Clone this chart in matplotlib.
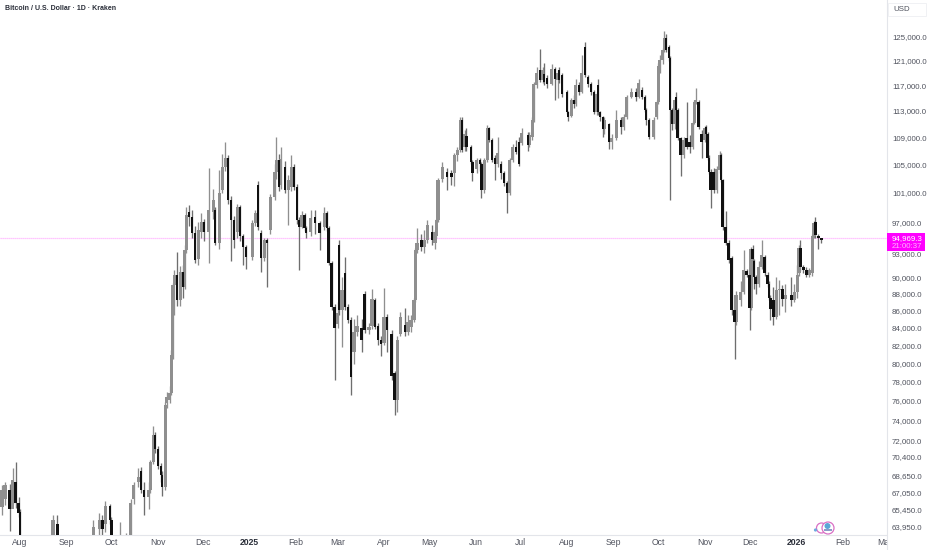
import numpy as np
import matplotlib
matplotlib.use("Agg")
import matplotlib.pyplot as plt
from matplotlib.patches import Rectangle, Circle
from matplotlib.transforms import IdentityTransform

plt.rcParams['font.family'] = ['Liberation Sans', 'DejaVu Sans']

# Candles (days since 2024-08-01, prices in thousand USD)
day = [-12,-10,-7,-5,-3,-1,0,22,25,49,
 53,55,57,60,61,67,71,74,76,79,
 81,83,86,87,89,90,92,94,95,97,
 98,100,101,102,103,105,107,109,110,111,
 113,115,117,119,121,123,126,129,130,133,
 135,137,139,141,143,145,147,149,151,155,
 157,159,161,163,165,167,170,171,173,174,
 177,179,181,183,185,186,188,190,191,194,
 197,200,203,205,206,208,210,212,213,215,
 217,219,221,223,225,228,230,233,235,237,
 239,241,243,245,248,250,252,254,257,259,
 261,263,264,265,268,270,272,275,277,278,
 279,282,285,288,290,292,294,295,297,298,
 301,302,305,307,308,310,312,313,315,317,
 319,321,323,325,327,329,331,333,335,339,
 340,342,343,345,347,349,350,352,355,357,
 359,360,362,365,366,368,370,371,373,375,
 377,379,381,383,385,386,387,389,390,393,
 395,398,401,403,405,408,411,413,415,417,
 418,420,423,425,426,427,429,430,431,433,
 434,435,437,438,439,441,443,445,447,449,
 450,451,453,455,457,458,459,460,461,463,
 465,467,468,469,471,473,475,477,478,481,
 483,485,487,488,489,490,491,493,495,497,
 499,500,501,503,505,507,509,511,515,517,
 519,520,521,523,525,527,529,530,531,533,
 535]
open_ = [65.7,66.4,67.3,65.5,68.0,66.1,65.3,62.0,64.2,62.0,
 63.8,64.6,64.2,65.8,64.6,62.0,62.5,62.9,66.4,68.0,
 69.0,67.3,66.6,67.3,69.9,72.5,71.1,69.5,68.7,67.5,
 75.8,76.1,76.8,80.9,89.0,90.3,87.2,90.6,88.8,93.4,
 98.4,97.7,95.6,92.3,95.7,97.0,95.7,98.4,98.6,94.3,
 101.4,104.6,105.9,100.0,97.3,95.7,99.0,95.2,93.8,92.5,
 96.9,102.1,95.6,92.4,94.7,96.0,100.4,103.9,105.6,102.1,
 104.6,101.4,101.8,104.6,101.8,97.3,96.4,98.0,96.2,95.7,
 97.7,96.9,96.4,98.2,96.2,91.8,86.4,84.4,94.0,86.0,
 90.5,86.4,84.9,81.2,83.5,84.0,87.9,83.7,84.2,87.2,
 84.2,82.6,82.3,85.2,83.3,78.9,76.1,83.3,84.3,83.5,
 84.1,84.9,87.2,93.4,94.7,93.8,94.7,95.7,94.3,95.2,
 97.3,103.0,103.9,103.8,103.8,106.3,107.1,111.6,107.5,109.2,
 107.5,105.4,104.4,105.6,105.0,101.4,105.6,110.3,108.6,105.9,
 105.1,105.1,103.8,102.4,101.0,105.6,107.5,108.3,108.1,109.3,
 107.9,109.0,111.6,117.0,119.5,117.8,118.9,118.2,117.2,119.7,
 117.8,119.5,118.6,115.9,112.8,112.2,114.7,114.0,117.1,116.0,
 123.3,118.3,117.2,115.9,112.8,117.0,112.8,112.0,110.2,110.9,
 108.3,108.8,111.6,110.5,112.0,115.2,116.0,115.2,116.3,115.2,
 113.1,111.6,109.0,112.0,114.3,119.5,121.1,122.8,124.8,123.3,
 121.4,113.1,110.9,115.2,113.1,108.8,106.3,108.8,108.3,107.5,
 111.2,114.3,114.3,109.5,108.6,110.5,109.5,106.0,103.9,103.9,
 101.4,104.2,106.3,102.8,96.4,94.3,92.4,86.0,84.7,87.2,
 88.2,90.7,90.3,86.3,93.5,92.0,90.0,89.2,91.2,92.5,
 90.3,89.2,87.5,87.2,85.2,88.4,88.6,87.4,87.8,87.2,
 88.2,90.5,93.7,91.2,90.9,90.3,90.5,95.2,97.0,95.2,
 94.9]
high = [67.7,68.0,67.8,69.3,69.9,66.6,65.5,65.0,65.0,64.6,
 65.2,65.0,66.3,66.0,64.8,64.4,63.4,66.4,68.0,69.3,
 69.4,68.0,68.0,70.1,73.4,72.8,71.4,69.8,69.0,75.9,
 76.9,77.6,81.5,89.3,90.9,93.1,91.4,91.5,94.0,99.0,
 99.4,98.6,96.5,97.0,98.3,97.5,104.5,101.5,99.0,104.2,
 106.5,108.3,106.3,100.5,97.8,99.5,99.3,95.5,94.1,97.3,
 98.6,102.6,96.0,95.0,95.0,100.8,105.0,109.0,106.5,107.5,
 105.5,103.5,106.3,105.0,102.2,97.7,98.5,98.3,96.5,98.6,
 98.6,97.2,99.0,98.5,96.5,92.0,86.7,87.0,94.7,90.0,
 92.5,86.8,85.2,85.0,85.5,85.0,88.3,84.5,88.5,87.5,
 84.5,83.0,88.7,85.6,83.7,79.2,83.0,85.8,86.3,85.5,
 85.5,87.5,93.7,96.3,95.5,96.0,97.3,96.7,96.0,97.5,
 103.1,105.3,104.5,104.2,106.6,107.5,112.0,112.0,110.0,110.4,
 107.8,105.7,106.0,106.0,105.3,106.0,110.8,110.5,108.9,106.3,
 109.0,105.5,104.0,102.6,106.0,108.0,108.5,109.0,110.3,109.8,
 109.8,112.0,117.5,120.0,123.0,120.0,120.7,118.6,120.5,120.0,
 119.5,120.0,119.0,116.2,113.0,115.0,115.5,118.0,117.5,122.0,
 124.1,118.7,117.5,116.2,116.0,118.0,113.0,112.2,112.0,111.2,
 109.5,113.1,112.0,112.5,115.5,116.5,116.5,118.0,116.8,115.5,
 113.4,111.9,112.0,114.6,120.6,122.0,123.2,126.0,125.5,123.7,
 121.8,113.4,115.0,116.0,113.4,109.0,109.0,114.3,109.3,111.5,
 114.7,116.5,114.6,110.0,110.6,110.8,109.8,106.3,104.3,104.5,
 104.8,107.0,106.6,103.0,98.5,94.7,92.7,86.3,88.3,89.5,
 93.4,91.0,90.6,93.8,94.0,92.3,90.3,92.0,94.7,92.8,
 90.6,89.5,87.8,88.8,90.0,89.6,89.0,89.1,90.0,89.2,
 91.5,94.0,94.7,91.5,91.2,91.1,95.5,97.2,97.7,95.5,
 95.0]
low = [65.0,65.9,63.6,66.0,65.6,64.8,61.0,61.5,61.5,61.5,
 63.0,62.5,63.5,64.2,61.5,61.0,62.0,62.5,66.0,67.5,
 67.0,65.0,65.5,67.0,69.7,70.8,69.2,68.0,66.7,67.3,
 75.2,75.8,76.6,80.5,85.5,86.5,86.5,87.5,88.5,93.0,
 96.5,95.0,91.7,91.5,95.0,94.5,91.7,97.5,94.0,93.5,
 101.0,104.0,99.5,92.0,93.6,95.0,94.6,91.5,91.0,92.1,
 96.5,96.0,90.6,92.0,88.8,95.5,100.0,103.0,101.3,101.5,
 101.0,96.7,101.3,101.4,96.8,90.9,96.2,95.8,95.0,95.2,
 95.5,93.4,96.0,95.9,91.5,86.0,78.2,84.0,85.5,81.8,
 86.0,84.5,76.6,79.9,83.0,81.2,83.4,83.3,83.8,83.8,
 82.0,80.8,82.0,81.2,78.2,74.5,74.8,83.0,83.0,83.2,
 83.5,84.7,87.0,93.0,93.3,93.0,94.3,94.0,93.5,95.0,
 97.0,102.5,101.4,102.1,101.9,105.5,106.8,106.8,107.0,107.0,
 105.0,102.7,103.8,104.0,100.3,101.0,105.3,108.3,105.3,102.8,
 104.7,103.0,102.0,98.2,100.7,105.3,106.5,104.8,107.8,107.0,
 107.5,108.5,111.3,116.5,117.5,117.4,117.0,116.5,117.0,114.7,
 115.0,117.4,115.2,112.5,111.5,112.0,113.5,113.8,115.5,115.8,
 118.3,116.8,115.5,112.5,112.3,112.3,111.5,109.0,109.5,107.3,
 107.2,108.5,109.5,110.0,111.8,115.0,114.5,115.0,114.8,112.8,
 110.8,108.7,108.7,111.8,114.0,119.0,120.5,122.5,122.5,121.0,
 100.0,110.0,110.2,112.8,108.5,103.4,106.0,107.2,106.7,107.2,
 111.0,114.0,110.2,106.0,108.3,109.2,105.7,103.6,98.9,101.0,
 101.0,103.8,102.5,96.0,94.0,91.7,85.5,80.5,84.3,86.5,
 88.0,90.0,83.7,86.0,92.0,88.5,88.0,88.8,91.0,90.2,
 88.8,87.2,84.9,84.3,85.0,85.5,86.5,85.8,86.5,87.0,
 87.5,90.2,90.8,90.5,90.0,90.0,90.2,95.0,95.0,93.5,
 94.3]
close = [67.3,67.7,65.5,68.2,66.1,65.2,62.0,64.6,62.0,63.9,
 64.6,63.8,65.8,64.6,62.0,62.5,63.0,66.1,67.7,68.5,
 67.3,66.6,67.3,69.9,72.5,71.1,69.5,68.7,67.5,75.6,
 76.4,76.8,80.9,89.0,90.3,87.2,90.6,88.8,93.4,98.0,
 97.7,95.6,92.1,96.0,97.0,95.7,98.6,100.0,94.3,101.0,
 104.6,105.9,100.0,97.3,94.7,99.0,95.2,93.8,92.5,96.9,
 98.2,96.4,92.4,94.7,94.3,100.4,103.9,105.6,101.8,105.8,
 101.4,102.8,104.6,101.8,97.3,96.4,98.0,96.2,95.6,97.6,
 96.9,95.6,98.2,96.2,91.8,86.4,84.0,85.7,86.0,88.4,
 86.4,84.9,78.5,83.5,84.2,82.6,83.7,84.1,87.3,84.1,
 82.6,82.1,85.2,83.7,78.6,76.1,82.6,85.2,83.5,84.7,
 84.9,87.2,93.4,94.3,93.8,94.7,96.6,94.7,95.7,97.3,
 102.8,104.6,103.2,103.2,106.3,107.1,111.6,107.1,109.5,107.5,
 105.4,103.8,105.6,105.0,101.4,105.6,110.3,108.6,105.6,105.1,
 106.7,103.8,102.4,101.0,105.6,107.5,106.8,105.1,109.6,107.9,
 109.3,111.6,117.2,119.0,117.8,119.5,117.5,117.2,119.7,118.1,
 119.0,117.8,115.6,112.8,112.0,114.7,114.0,117.1,116.0,119.0,
 118.7,117.2,115.9,112.8,115.6,112.8,112.0,110.2,111.6,108.3,
 108.8,111.6,110.5,112.0,115.2,116.0,115.2,117.4,115.2,113.1,
 111.6,109.0,111.6,114.3,120.2,121.1,122.8,124.8,122.8,121.4,
 113.1,110.9,114.7,113.1,108.8,106.3,108.6,107.5,107.5,111.2,
 114.3,114.7,110.5,108.3,110.3,109.5,106.0,103.9,101.4,101.4,
 104.4,106.3,102.8,96.4,94.3,92.1,86.0,84.7,87.8,88.2,
 90.9,90.3,86.3,93.5,92.2,90.0,89.2,91.2,92.8,90.5,
 89.2,87.5,86.2,85.2,88.4,88.6,87.4,87.8,87.2,88.2,
 90.3,93.7,91.2,90.9,90.3,90.9,95.2,96.9,95.3,94.9,
 94.7]

price_ticks = [125000,121000,117000,113000,109000,105000,101000,97000,93000,90000,
               88000,86000,84000,82000,80000,78000,76000,74000,72000,70400,
               68650,67050,65450,63950]
month_labels = ["Aug","Sep","Oct","Nov","Dec","2025","Feb","Mar","Apr","May","Jun","Jul",
                "Aug","Sep","Oct","Nov","Dec","2026","Feb","Mar"]
month_dates = ["2024-08-01","2024-09-01","2024-10-01","2024-11-01","2024-12-01","2025-01-01",
               "2025-02-01","2025-03-01","2025-04-01","2025-05-01","2025-06-01","2025-07-01",
               "2025-08-01","2025-09-01","2025-10-01","2025-11-01","2025-12-01","2026-01-01",
               "2026-02-01","2026-03-01"]
last_price = 94969.3
last_label = "94,969.3"
countdown = "21:00:37"
title = "Bitcoin / U.S. Dollar · 1D · Kraken"

W, H = 932, 550
fig = plt.figure(figsize=(W/100, H/100), dpi=100, facecolor="white")
PANEL_X, AX_BOTTOM = 887, 535

def price_at(y_px):
    return 125000*np.exp(-(y_px-37)/731)

ax = fig.add_axes([0, 1-AX_BOTTOM/H, PANEL_X/W, AX_BOTTOM/H])
ax.set_yscale("log")
ax.set_ylim(price_at(AX_BOTTOM), price_at(0))
base = np.datetime64("2024-08-01")
ax.set_xlim((0-20)/1.498, (PANEL_X-20)/1.498)

d = np.array(day, float)
o, h_, l, c = [np.array(a)*1000 for a in (open_, high, low, close)]
up = c >= o
UP, DOWN = "#8f8f8f", "#111111"
wick_cols = np.where(up, "#8f8f8f", "#6e6e6e")
ax.vlines(d, l, h_, colors=wick_cols, linewidth=0.95, zorder=2)
ax.bar(d[up], (c-o)[up], bottom=o[up], width=2.1, color=UP, linewidth=0, zorder=3)
ax.bar(d[~up], (o-c)[~up], bottom=c[~up], width=1.5, color=DOWN, linewidth=0, zorder=4)

ax.axhline(last_price, color="#ff00ff", alpha=0.3, linewidth=0.9, linestyle=(0,(1,0.6)), zorder=1)

for s in ("top", "left", "right"):
    ax.spines[s].set_visible(False)
ax.spines["bottom"].set_color("#e3e5ea")
ax.spines["bottom"].set_linewidth(0.8)
ax.minorticks_off()
ax.yaxis.set_visible(False)
tick_days = [(np.datetime64(m)-base)/np.timedelta64(1, "D") for m in month_dates]
ax.set_xticks(tick_days)
ax.set_xticklabels(month_labels, fontsize=6.2, color="#50535e")
ax.tick_params(axis="x", length=0, pad=2.2)
for t in ax.get_xticklabels():
    if t.get_text() in ("2025", "2026"):
        t.set_fontweight("bold")
        t.set_color("#2a2e39")
ax.text(5/PANEL_X, 1-9/AX_BOTTOM, title, transform=ax.transAxes, fontsize=5.0,
        fontweight="bold", color="#2a2e39", va="center", ha="left")

# Logo mark near the bottom right of the plot (drawn in pixel space)
def pix(x, y):
    return (x, H-y)
idt = IdentityTransform()
for (cx, cy, r) in [(821.5, 528, 5.0), (828, 528, 6.0)]:
    fig.add_artist(Circle(pix(cx, cy), r, transform=idt, ec="#d96fc4", fc="white", lw=0.9, zorder=6))
fig.add_artist(Rectangle(pix(824, 531), 8, 2.5, transform=idt, fc="#8c9cc8", ec="none", zorder=7))
fig.add_artist(Circle(pix(827.5, 526), 3.0, transform=idt, fc="#5aa7d6", ec="none", zorder=7))
fig.add_artist(Circle(pix(815.5, 530), 1.6, transform=idt, fc="#6fa8e0", ec="none", zorder=7))

# Price scale panel
ax2 = fig.add_axes([PANEL_X/W, 0, 1-PANEL_X/W, 1], zorder=3, facecolor="white")
ax2.set_yscale("log")
ax2.set_ylim(price_at(H), price_at(0))
ax2.set_xlim(0, 1)
ax2.set_xticks([])
for s in ("top", "bottom", "right"):
    ax2.spines[s].set_visible(False)
ax2.spines["left"].set_color("#e3e5ea")
ax2.spines["left"].set_linewidth(0.8)
ax2.minorticks_off()
ax2.set_yticks(price_ticks)
ax2.set_yticklabels([f"{p:,.1f}" for p in price_ticks], fontsize=5.7, color="#50535e", ha="left")
ax2.tick_params(axis="y", which="both", length=0, pad=-3.6)
ax2.yaxis.set_minor_locator(matplotlib.ticker.NullLocator())

fig.add_artist(Rectangle(pix(888, 16), 38, 13, transform=idt, fc="white",
                         ec="#f0f1f4", lw=0.7, zorder=6))
fig.text(893/W, 1-9.5/H, "USD", fontsize=5.7, color="#50535e", va="center", ha="left", zorder=7)
fig.add_artist(Rectangle(pix(887, 251), 38, 18, transform=idt, fc="#ff00ff", ec="none", zorder=6))
fig.text(892/W, 1-238.5/H, last_label, fontsize=5.7, color="white", va="center", ha="left", zorder=7)
fig.text(892/W, 1-246/H, countdown, fontsize=5.7, color="#ffb3ff", va="center", ha="left", zorder=7)

for L in (day, open_, high, low):
    assert len(L) == len(close), (len(L), len(close))
fig.savefig("out.png", dpi=100, facecolor="white")
